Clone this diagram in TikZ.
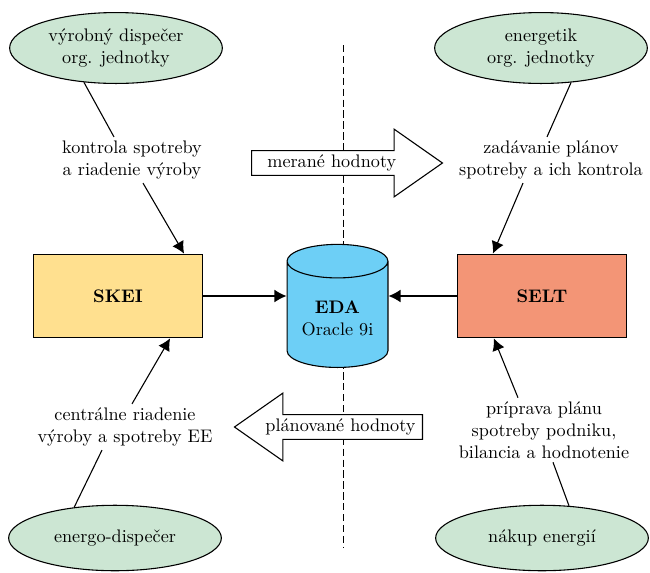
\documentclass[tikz,border=0pt]{standalone}
\usepackage{tikz}
\usetikzlibrary{shapes.geometric,shapes.arrows,arrows.meta,calc}

\definecolor{ovalgreen}{RGB}{204,230,211}
\definecolor{skeiyellow}{RGB}{255,224,143}
\definecolor{seltred}{RGB}{243,149,118}
\definecolor{edablue}{RGB}{109,207,246}

\begin{document}
\begin{tikzpicture}[x=0.55pt,y=-0.55pt,
    oval/.style={ellipse, draw, fill=ovalgreen, line width=0.6pt, inner sep=0pt, minimum width=117pt, minimum height=39pt, align=center},
    system/.style={rectangle, draw, line width=0.6pt, minimum width=93pt, minimum height=46pt, font=\bfseries},
    popis/.style={align=center, inner sep=2pt},
    tok/.style={single arrow, draw, fill=white, line width=0.6pt, single arrow head extend=11.8pt, single arrow tip angle=70, inner xsep=3pt, inner ysep=2pt, anchor=tail},
    sipka/.style={-{Latex[length=6.6pt,width=7pt]}, line width=0.6pt},
    ciara/.style={line width=0.6pt}]

    \useasboundingbox (0,0) rectangle (650,572);

    % deliaca ciara
    \coordinate (hore) at (343,45);
    \coordinate (dole) at (343,548);
    \draw[dash pattern=on 4pt off 2pt, line width=0.5pt] (hore) -- (dole);

    \node[oval] (vd) at (116,48) {výrobný dispečer\\org. jednotky};
    \node[oval] (en) at (541,48) {energetik\\org. jednotky};
    \node[oval, minimum height=36pt] (ed) at (115,538) {energo-dispečer};
    \node[oval, minimum height=36pt] (nk) at (542,538) {nákup energií};

    \node[system, fill=skeiyellow] (skei) at (118,296) {SKEI};
    \node[system, fill=seltred] (selt) at (542,296) {SELT};
    \node[cylinder, shape border rotate=90, aspect=0.4, draw, fill=edablue, line width=0.6pt, minimum width=55.5pt, minimum height=67.7pt, align=center, anchor=bottom] (eda) at (337.5,368) {\textbf{EDA}\\Oracle 9i};

    \node[popis] (l1) at (132,160) {kontrola spotreby\\a riadenie výroby};
    \node[popis] (l2) at (551,160) {zadávanie plánov\\spotreby a ich kontrola};
    \node[popis] (l3) at (125,427) {centrálne riadenie\\výroby a spotreby EE};
    \node[popis] (l4) at (544,430) {príprava plánu\\spotreby podniku,\\bilancia a hodnotenie};

    \node[tok, minimum height=105pt] (mer) at (251,163) {merané hodnoty\hspace*{7pt}};
    \node[tok, minimum height=103.4pt, shape border rotate=180] (plan) at (423,427) {\hspace*{3.5pt}plánované hodnoty};

    \draw[ciara] (vd.227) -- ($(l1.north)+(-18,0)$);
    \draw[sipka] ($(l1.south)+(11,0)$) -- ($(skei.north east)+(-19,0)$);
    \draw[ciara] (en.311) -- ($(l2.north)+(-4,0)$);
    \draw[sipka] ($(l2.south)+(-28,0)$) -- ($(selt.north west)+(36,0)$);
    \draw[sipka] ($(l3.north)+(7,0)$) -- ($(skei.south east)+(-33,0)$);
    \draw[ciara] ($(l3.south)+(-23,0)$) -- (ed.143);
    \draw[sipka] ($(l4.north)+(-26,0)$) -- ($(selt.south west)+(37,0)$);
    \draw[ciara] ($(l4.south)+(9,0)$) -- (nk.50);

    \draw[sipka] (skei.east) -- (skei.east -| eda.west);
    \draw[sipka] (selt.west) -- (selt.west -| eda.east);
\end{tikzpicture}
\end{document}
